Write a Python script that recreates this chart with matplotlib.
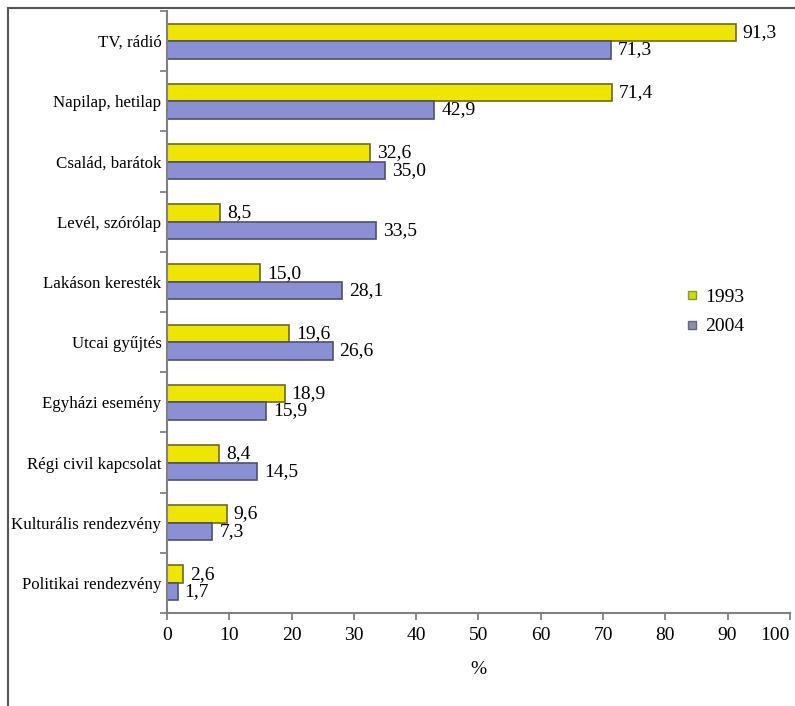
import matplotlib.pyplot as plt
from matplotlib.lines import Line2D
import numpy as np

categories = ['TV, rádió', 'Napilap, hetilap', 'Család, barátok', 'Levél, szórólap',
              'Lakáson keresték', 'Utcai gyűjtés', 'Egyházi esemény', 'Régi civil kapcsolat',
              'Kulturális rendezvény', 'Politikai rendezvény']
v1993 = [91.3, 71.4, 32.6, 8.5, 15.0, 19.6, 18.9, 8.4, 9.6, 2.6]
v2004 = [71.3, 42.9, 35.0, 33.5, 28.1, 26.6, 15.9, 14.5, 7.3, 1.7]
xticks = [0, 10, 20, 30, 40, 50, 60, 70, 80, 90, 100]

plt.rcParams['font.family'] = ['Liberation Serif', 'DejaVu Serif']

fig = plt.figure(figsize=(7.95, 7.06), dpi=100)
ax = fig.add_axes([0.210, 0.1317, 0.7836, 0.8527])

yellow = '#ECE600'
blue = '#8B90D4'
h = 0.29
y = np.arange(len(categories))

b1 = ax.barh(y - h / 2, v1993, height=h, color=yellow, edgecolor='#6E6A22', linewidth=1.2)
b2 = ax.barh(y + h / 2, v2004, height=h, color=blue, edgecolor='#4E5070', linewidth=1.2)

fmt = lambda v: ('%.1f' % v).replace('.', ',')
for bars, vals in ((b1, v1993), (b2, v2004)):
    for b, v in zip(bars, vals):
        ax.annotate(fmt(v), (v, b.get_y() + b.get_height() / 2), xytext=(5, 0),
                    textcoords='offset points', va='center', ha='left', fontsize=14)

ax.set_ylim(len(categories) - 0.5, -0.5)
ax.set_xlim(0, 100)
ax.set_yticks(y)
ax.set_yticklabels(categories, fontsize=12.2)
ax.set_yticks(np.arange(-0.5, len(categories), 1), minor=True)
ax.tick_params(axis='y', which='major', length=0, pad=4)
ax.tick_params(axis='y', which='minor', length=5, width=1.2, color='#777777', direction='out')
ax.set_xticks(xticks)
ax.set_xticklabels([str(t) for t in xticks], fontsize=14)
ax.get_xticklabels()[-1].set_horizontalalignment('right')
ax.tick_params(axis='x', length=5, width=1.2, color='#777777', direction='out', pad=5)
ax.set_xlabel('%', fontsize=14, labelpad=12)

for s in ['top', 'right']:
    ax.spines[s].set_visible(False)
for s in ['left', 'bottom']:
    ax.spines[s].set_color('#808080')
    ax.spines[s].set_linewidth(1.5)

handles = [Line2D([], [], marker='s', ls='', markersize=6, markerfacecolor='#C8DC10',
                  markeredgecolor='#8A9A30', label='1993'),
           Line2D([], [], marker='s', ls='', markersize=6, markerfacecolor='#8E8EAA',
                  markeredgecolor='#666680', label='2004')]
ax.legend(handles=handles, loc='center left', bbox_to_anchor=(0.805, 0.5), frameon=False,
          fontsize=14, handlelength=0.6, handletextpad=0.4, labelspacing=0.6)

# frame around the picture
fig.add_artist(Line2D([8 / 795, 1], [1 - 8 / 706, 1 - 8 / 706], transform=fig.transFigure,
                      color='#555555', lw=1.5))
fig.add_artist(Line2D([8 / 795, 8 / 795], [0, 1 - 8 / 706], transform=fig.transFigure,
                      color='#555555', lw=1.5))

fig.savefig('out.png', dpi=100)
